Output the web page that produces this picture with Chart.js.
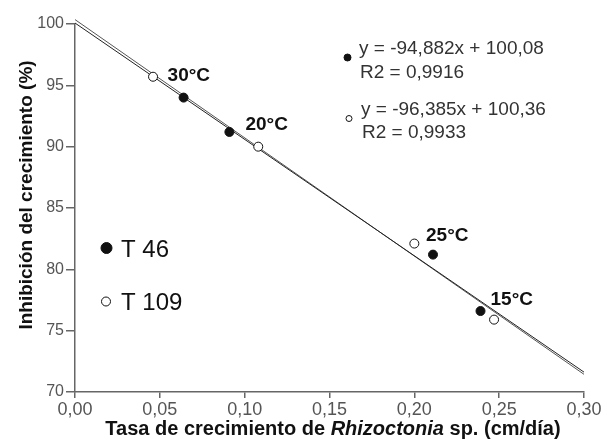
<!DOCTYPE html>
<html>
<head>
<meta charset="utf-8">
<script src="https://cdn.jsdelivr.net/npm/chart.js@4"></script>
<style>
  html, body { margin: 0; padding: 0; background: #fff; }
  #wrap { width: 607px; height: 443px; }
</style>
</head>
<body>
<div id="wrap"><canvas id="graphic" width="607" height="443"></canvas></div>
<script>
// T 46 (filled) and T 109 (open) measured points
const t46X = [0.064, 0.091, 0.211, 0.239]
const t46Y = [94.0, 91.2, 81.2, 76.6]
const t109X = [0.046, 0.108, 0.200, 0.247]
const t109Y = [95.7, 90.0, 82.1, 75.9]
// temperature label for each T 46 point
const tempLabels = ["30°C", "20°C", "25°C", "15°C"]

// trend line ends, read at x = 0 and x = 0.30
const fitX = [0, 0.30]
const fitT46 = [100.08, 71.62]
const fitT109 = [100.36, 71.44]

const xTicks = [0, 0.05, 0.10, 0.15, 0.20, 0.25, 0.30]
const yTicks = [70, 75, 80, 85, 90, 95, 100]

const eqT46 = ["y = -94,882x + 100,08", "R2 = 0,9916"]
const eqT109 = ["y = -96,385x + 100,36", "R2 = 0,9933"]
const legendNames = ["T 46", "T 109"]

const FONT = "'Liberation Sans', Arial, sans-serif"
const graphic = document.querySelector("#graphic")

const toPts = (xs, ys) => xs.map((x, i) => ({ x: x, y: ys[i] }))

// offsets of each temp label (left, baseline) from its T 46 point (px)
const labelOffsets = [[-16, -17], [16, -2], [-7, -14], [10, -6]]

const dot = (ctx, x, y, r, filled) => {
  ctx.beginPath()
  ctx.arc(x, y, r, 0, Math.PI * 2)
  ctx.fillStyle = filled ? "#111" : "#fff"
  ctx.fill()
  ctx.lineWidth = 1
  ctx.strokeStyle = "#111"
  ctx.stroke()
}

const extras = {
  id: "extras",
  afterDraw(chart) {
    const ctx = chart.ctx
    const xs = chart.scales.x
    const ys = chart.scales.y
    ctx.save()
    ctx.textBaseline = "alphabetic"
    ctx.textAlign = "left"

    // temperature labels
    ctx.font = "bold 19px " + FONT
    ctx.fillStyle = "#111"
    tempLabels.forEach((t, i) => {
      const px = xs.getPixelForValue(t46X[i]) + labelOffsets[i][0]
      const py = ys.getPixelForValue(t46Y[i]) + labelOffsets[i][1]
      ctx.fillText(t, px, py)
    })

    // equations
    dot(ctx, 347.5, 57.5, 3.5, true)
    dot(ctx, 349, 118.5, 3, false)
    ctx.font = "19px " + FONT
    ctx.fillStyle = "#333"
    ctx.fillText(eqT46[0], 359, 54)
    ctx.fillText(eqT46[1], 360, 78)
    ctx.fillText(eqT109[0], 361, 115)
    ctx.fillText(eqT109[1], 362, 138)

    // legend
    dot(ctx, 106.5, 248, 5.5, true)
    dot(ctx, 106, 301.5, 4.5, false)
    ctx.font = "24px " + FONT
    ctx.fillStyle = "#111"
    ctx.fillText(legendNames[0], 121, 257)
    ctx.fillText(legendNames[1], 121, 310)

    // x axis title with italic genus name
    const parts = [
      ["bold 20px " + FONT, "Tasa de crecimiento de "],
      ["bold italic 20px " + FONT, "Rhizoctonia"],
      ["bold 20px " + FONT, " sp. (cm/día)"]
    ]
    let total = 0
    parts.forEach(p => { ctx.font = p[0]; total += ctx.measureText(p[1]).width })
    let cx = 333 - total / 2
    ctx.fillStyle = "#111"
    parts.forEach(p => {
      ctx.font = p[0]
      ctx.fillText(p[1], cx, 435)
      cx += ctx.measureText(p[1]).width
    })

    // y axis title
    ctx.translate(32, 195)
    ctx.rotate(-Math.PI / 2)
    ctx.font = "bold 19px " + FONT
    ctx.textAlign = "center"
    ctx.fillText("Inhibición del crecimiento (%)", 0, 0)
    ctx.restore()
  }
}

const chart = new Chart(graphic, {
  type: "scatter",
  data: {
    datasets: [
      {
        label: legendNames[0],
        data: toPts(t46X, t46Y),
        pointRadius: 4.5,
        pointBackgroundColor: "#111",
        pointBorderColor: "#111",
        pointBorderWidth: 1,
        order: 1
      },
      {
        label: legendNames[1],
        data: toPts(t109X, t109Y),
        pointRadius: 4.5,
        pointBackgroundColor: "#fff",
        pointBorderColor: "#111",
        pointBorderWidth: 1,
        order: 1
      },
      {
        type: "line",
        data: toPts(fitX, fitT46),
        borderColor: "#222",
        borderWidth: 1,
        pointRadius: 0,
        clip: false,
        order: 2
      },
      {
        type: "line",
        data: toPts(fitX, fitT109),
        borderColor: "#555",
        borderWidth: 1,
        pointRadius: 0,
        clip: false,
        order: 2
      }
    ]
  },
  options: {
    responsive: false,
    animation: false,
    layout: { padding: { left: 0, right: 23, top: 24, bottom: 0 } },
    plugins: { legend: { display: false }, tooltip: { enabled: false } },
    scales: {
      x: {
        type: "linear",
        min: 0,
        max: 0.30,
        afterBuildTicks: s => { s.ticks = xTicks.map(v => ({ value: v })) },
        afterFit: s => { s.height = 51 },
        border: { color: "#666", width: 1.5 },
        grid: { drawOnChartArea: false, drawTicks: true, tickLength: 6, color: "#666", lineWidth: 1.5 },
        ticks: {
          color: "#555",
          font: { family: FONT, size: 18 },
          padding: 1,
          maxRotation: 0,
          callback: v => v.toFixed(2).replace(".", ",")
        }
      },
      y: {
        min: 70,
        max: 100,
        afterBuildTicks: s => { s.ticks = yTicks.map(v => ({ value: v })) },
        afterFit: s => { s.width = 75 },
        border: { color: "#666", width: 1.5 },
        grid: { drawOnChartArea: false, drawTicks: true, tickLength: 9, color: "#666", lineWidth: 1.5 },
        ticks: {
          color: "#555",
          font: { family: FONT, size: 16 },
          padding: 2
        }
      }
    }
  },
  plugins: [extras]
})
</script>
</body>
</html>
